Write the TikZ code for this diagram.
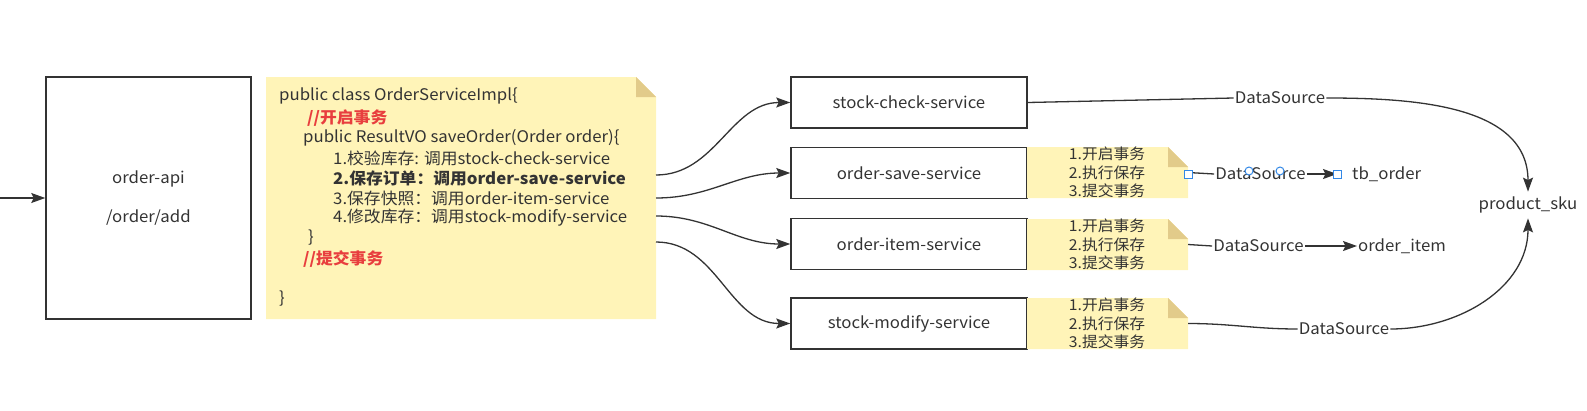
\documentclass[tikz,border=0pt]{standalone}
\usepackage{fontspec}
\setmainfont{Noto Sans CJK SC}[FakeStretch=1.05]
\usepackage{tikz}
\usetikzlibrary{arrows.meta}
\definecolor{ink}{RGB}{51,51,51}
\definecolor{notefill}{RGB}{255,244,184}
\definecolor{notefold}{RGB}{226,203,138}
\definecolor{commentred}{RGB}{232,62,62}
\definecolor{handle}{RGB}{51,136,230}
\tikzset{
  flow/.style={draw=ink,line width=1.3pt,-{Stealth[length=14pt,width=10pt,inset=2.5pt]}},
  link/.style={draw=ink,line width=1.3pt},
  svcbox/.style={draw=ink,line width=1.5pt,minimum width=236pt,minimum height=51pt,inner sep=0pt,
    font=\fontsize{16}{19}\selectfont,text=ink},
  codeline/.style={anchor=west,inner sep=0pt,font=\fontsize{16}{19}\selectfont,text=ink},
  txline/.style={align=center,inner sep=0pt,font=\fontsize{15}{18.5}\selectfont,text=ink},
  dslabel/.style={inner sep=1pt,font=\fontsize{16}{19}\selectfont,text=ink},
  tablelabel/.style={inner sep=1pt,font=\fontsize{16}{19}\selectfont,text=ink}
}

\begin{document}
\begin{tikzpicture}[x=1pt,y=1pt,yscale=-1,xscale=1]
\path[use as bounding box] (0,0) rectangle (1587,410);

%Shape: Rectangle
\node [draw=ink,line width=1.5pt,minimum width=205pt,minimum height=242pt,inner sep=0pt,align=center,
  font=\fontsize{16}{20}\selectfont,text=ink] (api) at (148.5,198) {order-api\\[19pt]/order/add};
%Straight Lines
\coordinate (caller) at (0,198);
\draw [flow] (caller) -- (api.west);

%Shape: Note
\fill [notefill] (266,77) -- (636,77) -- (656,97) -- (656,319) -- (266,319) -- cycle;
\fill [notefold] (636,77) -- (656,97) -- (636,97) -- cycle;

% Text Node
\node [codeline] (t1) at (279,96) {public class OrderServiceImpl\{};
% Text Node
\node [codeline,text=commentred,font=\fontsize{16}{19}\selectfont\bfseries] (t2) at (307,118) {//开启事务};
% Text Node
\node [codeline] (t3) at (303,138) {public ResultVO saveOrder(Order order)\{};
% Text Node
\node [codeline] (t4) at (333,158) {1.校验库存: 调用stock-check-service};
% Text Node
\node [codeline,font=\fontsize{16}{19}\selectfont\bfseries] (t5) at (333,178) {2.保存订单：调用order-save-service};
% Text Node
\node [codeline] (t6) at (333,198) {3.保存快照：调用order-item-service};
% Text Node
\node [codeline] (t7) at (333,218) {4.修改库存：调用stock-modify-service};
% Text Node
\node [codeline] (t8) at (308,238) {\}};
% Text Node
\node [codeline,text=commentred,font=\fontsize{16}{19}\selectfont\bfseries] (t9) at (303,259) {//提交事务};
% Text Node
\node [codeline] (t10) at (279,299) {\}};

%Shape: Rectangle
\node [svcbox] (check) at (909,102.5) {stock-check-service};
\node [svcbox] (save) at (909,173) {order-save-service};
\node [svcbox] (item) at (909,244) {order-item-service};
\node [svcbox] (modify) at (909,323.5) {stock-modify-service};

%Curve Lines
\coordinate (c1) at (656,175);
\coordinate (c2) at (656,198);
\coordinate (c3) at (656,216);
\coordinate (c4) at (656,242);
\draw [flow] (c1) to[out=0,in=180] (check.west);
\draw [flow] (c2) to[out=0,in=180] (save.west);
\draw [flow] (c3) to[out=0,in=180] (item.west);
\draw [flow] (c4) to[out=0,in=180] (modify.west);

%Shape: Note
\foreach \ny/\nm in {147/n1,219/n2,298/n3}{
  \fill [notefill] (1027,\ny) -- (1168,\ny) -- (1188,\ny+20) -- (1188,\ny+51) -- (1027,\ny+51) -- cycle;
  \fill [notefold] (1168,\ny) -- (1188,\ny+20) -- (1168,\ny+20) -- cycle;
  \coordinate (\nm) at (1188,\ny+25.5);
  \node [txline] (\nm text) at (1107,\ny+25.5) {1.开启事务\\2.执行保存\\3.提交事务};
}

% Text Node
\node [dslabel] (ds1) at (1280,98) {DataSource};
\node [dslabel] (ds2) at (1260.5,174) {DataSource};
\node [dslabel] (ds3) at (1258.5,246) {DataSource};
\node [dslabel] (ds4) at (1344,329) {DataSource};
\node [tablelabel,anchor=west] (tborder) at (1337,174) {\hspace{14pt}tb\_order};
\node [tablelabel,anchor=west] (orderitem) at (1357,246) {order\_item};
\node [tablelabel,inner sep=5pt] (sku) at (1528,205) {product\_sku};

%Curve Lines
\draw [link] (check.east) -- (ds1.west);
\draw [flow] (ds1.east) to[out=0,in=-90] (sku.north);
\draw [link] (n1) -- (ds2.west);
\draw [flow] (ds2.east) -- (tborder.west);
\draw [link] (n2) -- (ds3.west);
\draw [flow] (ds3.east) -- (orderitem.west);
\draw [link] (n3) to[out=0,in=180] (ds4.west);
\draw [flow] (ds4.east) to[out=0,in=90] (sku.south);

%Shape: Handles
\draw [handle,fill=white,line width=1pt] (1184,170) rectangle (1192,178);
\draw [handle,fill=white,line width=1pt] (1333,170) rectangle (1341,178);
\draw [handle,fill=white,line width=1pt] (1249,171) circle (4);
\draw [handle,fill=white,line width=1pt] (1280,171) circle (4);

\end{tikzpicture}
\end{document}
